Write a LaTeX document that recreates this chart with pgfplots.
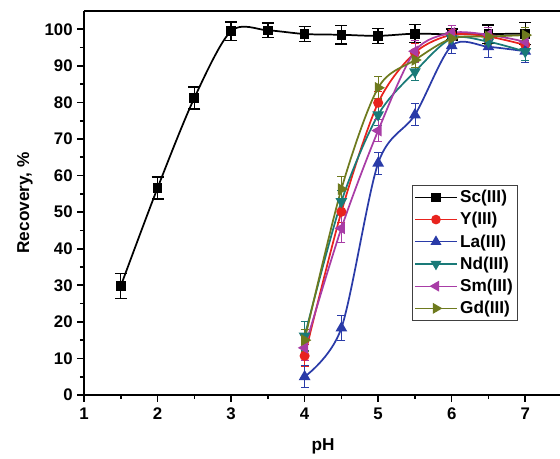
\documentclass[border=0pt]{standalone}
\usepackage{pgfplots}
\pgfplotsset{compat=1.18}
\usepackage{fontspec}
\setmainfont{Liberation Sans}
\definecolor{cY}{HTML}{E8231E}
\definecolor{cLa}{HTML}{2A3BA8}
\definecolor{cNd}{HTML}{1A7A78}
\definecolor{cSm}{HTML}{A83CA6}
\definecolor{cGd}{HTML}{6E7A1E}
\begin{document}
\begin{tikzpicture}
\begin{axis}[
  width=358.5pt, height=288pt, scale only axis,
  xmin=1, xmax=7.5, ymin=0, ymax=105,
  xtick={1,2,3,4,5,6,7}, minor xtick={1.5,2.5,3.5,4.5,5.5,6.5},
  ytick={0,10,...,100}, minor ytick={5,15,...,95},
  tick align=outside, xtick pos=bottom, ytick pos=left,
  major tick length=5pt, minor tick length=3pt,
  tick style={line width=1.2pt, black},
  separate axis lines,
  axis x line*=box, axis y line*=left,
  axis line style={line width=1.8pt, -},
  /pgf/number format/assume math mode=true,
  ticklabel style={font=\bfseries\fontsize{12.6}{14}\selectfont},
  xticklabel style={yshift=-1pt},
  xlabel={pH}, ylabel={Recovery, \%},
  label style={font=\bfseries\fontsize{12.9}{15}\selectfont},
  xlabel style={at={(axis description cs:0.5,-0.133)}, anchor=center},
  ylabel style={at={(axis description cs:-0.1234,0.5)}, anchor=center},
  legend style={at={(0.686,0.547)}, anchor=north west, draw=black!75, line width=0.8pt,
    font=\bfseries\fontsize{12.9}{14}\selectfont, inner sep=1.5pt, row sep=1.8pt,
    cells={anchor=west}},
  legend image code/.code={\draw[mark repeat=2,mark phase=2,line width=1pt] plot coordinates {(0cm,0cm) (0.55cm,0cm) (1.1cm,0cm)};},
  every axis plot/.append style={line width=1.3pt, smooth},
  error bars/y dir=both, error bars/y explicit,
]
\addplot[black, mark=square*, mark size=3pt, mark options={solid},
  error bars/error mark options={rotate=90, mark size=4.5pt, line width=1pt},
  error bars/error bar style={line width=1pt}]
coordinates {
(1.5,29.8) +- (0,3.5)
(2,56.6) +- (0,3)
(2.5,81.2) +- (0,3)
(3,99.5) +- (0,2.5)
(3.5,99.7) +- (0,2)
(4,98.7) +- (0,2)
(4.5,98.5) +- (0,2.5)
(5,98.2) +- (0,2)
(5.5,98.8) +- (0,2.5)
(6,98.6) +- (0,1.5)
(6.5,98.7) +- (0,2.5)
(7,98.8) +- (0,3)
};
\addlegendentry{Sc(III)}
\addplot[cY, mark=*, mark size=3.1pt,
  error bars/error mark options={rotate=90, mark size=3pt, line width=0.6pt},
  error bars/error bar style={line width=0.6pt}]
coordinates {
(4,10.7) +- (0,3)
(4.5,50.1) +- (0,3)
(5,79.9) +- (0,3)
(5.5,93.6) +- (0,2.5)
(6,98.5) +- (0,1.5)
(6.5,98.0) +- (0,2)
(7,95.7) +- (0,2)
};
\addlegendentry{Y(III)}
\addplot[cLa, mark=triangle*, mark size=3.8pt,
  error bars/error mark options={rotate=90, mark size=3pt, line width=0.6pt},
  error bars/error bar style={line width=0.6pt}]
coordinates {
(4,5.0) +- (0,3)
(4.5,18.3) +- (0,3.5)
(5,63.4) +- (0,3)
(5.5,76.6) +- (0,3)
(6,95.5) +- (0,2)
(6.5,95.2) +- (0,3)
(7,94.0) +- (0,3)
};
\addlegendentry{La(III)}
\addplot[cNd, mark=triangle*, mark size=3.8pt, mark options={rotate=180},
  error bars/error mark options={rotate=90, mark size=3pt, line width=0.6pt},
  error bars/error bar style={line width=0.6pt}]
coordinates {
(4,16.1) +- (0,4)
(4.5,52.9) +- (0,3)
(5,76.6) +- (0,3)
(5.5,88.4) +- (0,2.5)
(6,97.5) +- (0,2)
(6.5,96.6) +- (0,2)
(7,93.9) +- (0,2.5)
};
\addlegendentry{Nd(III)}
\addplot[cSm, mark=triangle*, mark size=3.8pt, mark options={rotate=90},
  error bars/error mark options={rotate=90, mark size=3pt, line width=0.6pt},
  error bars/error bar style={line width=0.6pt}]
coordinates {
(4,12.9) +- (0,3.5)
(4.5,45.6) +- (0,4)
(5,72.3) +- (0,3)
(5.5,94.0) +- (0,3)
(6,99.0) +- (0,2)
(6.5,98.5) +- (0,2)
(7,96.6) +- (0,2)
};
\addlegendentry{Sm(III)}
\addplot[cGd, mark=triangle*, mark size=3.8pt, mark options={rotate=-90},
  error bars/error mark options={rotate=90, mark size=3pt, line width=0.6pt},
  error bars/error bar style={line width=0.6pt}]
coordinates {
(4,15.0) +- (0,3)
(4.5,56.3) +- (0,3.5)
(5,84.0) +- (0,3)
(5.5,91.6) +- (0,2)
(6,97.5) +- (0,2)
(6.5,98.0) +- (0,2)
(7,98.4) +- (0,2)
};
\addlegendentry{Gd(III)}
\end{axis}
\pgfresetboundingbox
\path[use as bounding box] (current axis.south west) ++(-63pt,-48pt) rectangle ++(420pt,344.25pt);
\end{tikzpicture}
\end{document}
